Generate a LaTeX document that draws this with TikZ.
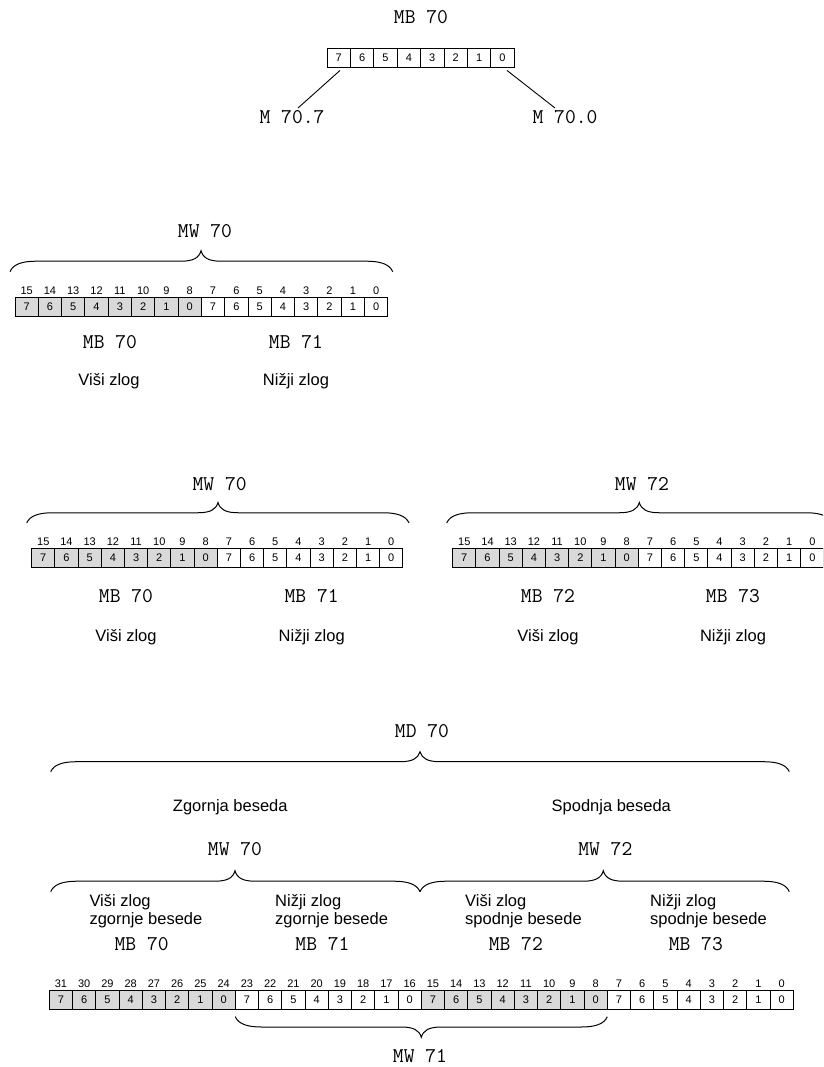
\documentclass[tikz,border=0pt]{standalone}
\usepackage{fontspec}
\setmainfont{Liberation Sans}
\usetikzlibrary{calc}
\definecolor{cellgray}{gray}{0.85}
\newcommand{\register}[6]{%
  \foreach \i in {1,...,#4} {
    \pgfmathtruncatemacro{\k}{\i-1}
    \pgfmathtruncatemacro{\bitv}{7-mod(\k,8)}
    \pgfmathtruncatemacro{\numv}{#4-1-\k}
    \pgfmathtruncatemacro{\g}{#6*(1-mod(floor(\k/8),2))}
    \ifnum\g=1 \def\cf{cellgray}\else\def\cf{white}\fi
    \node[cell, fill=\cf, minimum width=#5pt] (#1-\k) at ({#2+#5*(\k+0.5)},{#3+9.75}) {\bitv};
    \ifnum#6=1 \node[bitn] (#1-n\k) at ({#2+#5*(\k+0.5)},{#3-3}) {\numv};\fi
  }
}
\newcommand{\wbrace}[5]{%
  \draw[bracel] (#1,#4) .. controls ({#1+3},{#4-0.35*(#5)}) and ({#1+12},{#4-0.5*(#5)}) .. ({#1+26},{#4-0.5*(#5)})
   -- ({#2-20},{#4-0.5*(#5)}) .. controls ({#2-8},{#4-0.5*(#5)}) and ({#2-2},{#4-0.65*(#5)}) .. (#2,{#4-(#5)})
   .. controls ({#2+2},{#4-0.65*(#5)}) and ({#2+8},{#4-0.5*(#5)}) .. ({#2+20},{#4-0.5*(#5)})
   -- ({#3-26},{#4-0.5*(#5)}) .. controls ({#3-12},{#4-0.5*(#5)}) and ({#3-3},{#4-0.35*(#5)}) .. (#3,#4);
}
\tikzset{
  mono/.style={font=\ttfamily\fontsize{21}{24}\selectfont, inner sep=0pt, anchor=base},
  lab/.style={font=\fontsize{16.5}{18.3}\selectfont, inner sep=0pt, anchor=base},
  labl/.style={lab, anchor=base west},
  bitn/.style={font=\fontsize{11}{11}\selectfont, inner sep=0pt, anchor=base},
  cell/.style={draw, line width=0.9pt, minimum height=19.5pt, inner sep=0pt, font=\fontsize{11}{11}\selectfont},
  bracel/.style={line width=1pt},
  lead/.style={line width=0.9pt},
}
\begin{document}
\begin{tikzpicture}[x=1pt,y=-1pt]
\useasboundingbox (0,0) rectangle (823,1067);
\clip (0,0) rectangle (823,1067);
\fill[white] (0,0) rectangle (823,1067);

% ---- Section 1: MB 70
\node[mono] (t1) at (421,23.5) {MB 70};
\register{s1}{327}{48}{8}{23.4}{0}
\coordinate (e7) at (298,108);
\coordinate (e0) at (555,108);
\draw[lead] ($(s1-0.south)+(1.3,2.5)$) -- (e7);
\draw[lead] ($(s1-7.south)+(4.5,2.5)$) -- (e0);
\node[mono] (m707) at (292,123.5) {M 70.7};
\node[mono] (m700) at (565,123.5) {M 70.0};

% ---- Section 2: MW 70
\node[mono] (t2) at (205,237) {MW 70};
\wbrace{10}{201}{392.7}{271.7}{21}
\register{s2}{15}{297}{16}{23.3}{1}
\node[mono] (s2mb70) at (110,348.5) {MB 70};
\node[mono] (s2mb71) at (296,348.5) {MB 71};
\node[lab] (s2hi) at (109,385) {Viši zlog};
\node[lab] (s2lo) at (296,385) {Nižji zlog};

% ---- Section 3: MW 70 and MW 72
\node[mono] (t3a) at (219.7,490.5) {MW 70};
\wbrace{26.7}{218}{409}{523}{20.5}
\register{s3a}{31.7}{548}{16}{23.2}{1}
\node[mono] (s3mb70) at (126,602) {MB 70};
\node[mono] (s3mb71) at (311.7,602) {MB 71};
\node[lab] (s3hia) at (126,641) {Viši zlog};
\node[lab] (s3loa) at (311.7,641) {Nižji zlog};

\node[mono] (t3b) at (642,490.5) {MW 72};
\wbrace{446.7}{639.3}{832}{523}{20.5}
\register{s3b}{452.7}{548}{16}{23.2}{1}
\node[mono] (s3mb72) at (548,602) {MB 72};
\node[mono] (s3mb73) at (733,602) {MB 73};
\node[lab] (s3hib) at (548,641) {Viši zlog};
\node[lab] (s3lob) at (733,641) {Nižji zlog};

% ---- Section 4: MD 70
\node[mono] (t4) at (422,737) {MD 70};
\wbrace{50.7}{420}{789.3}{771.7}{20}
\node[lab] (zg) at (230.3,811.7) {Zgornja beseda};
\node[lab] (sp) at (611.3,811.7) {Spodnja beseda};
\node[mono] (w70) at (235,855) {MW 70};
\node[mono] (w72) at (605.3,855) {MW 72};
\wbrace{50.7}{235}{420}{891.7}{21}
\wbrace{420}{603.3}{789.3}{891.7}{21}
\node[labl] (a1) at (89.3,906) {Viši zlog};
\node[labl] (a2) at (89.3,924) {zgornje besede};
\node[labl] (b1) at (275,906) {Nižji zlog};
\node[labl] (b2) at (275,924) {zgornje besede};
\node[labl] (c1) at (465,906) {Viši zlog};
\node[labl] (c2) at (465,924) {spodnje besede};
\node[labl] (d1) at (650,906) {Nižji zlog};
\node[labl] (d2) at (650,924) {spodnje besede};
\node[mono] (b70) at (141.7,950.5) {MB 70};
\node[mono] (b71) at (322.5,950.5) {MB 71};
\node[mono] (b72) at (515.8,950.5) {MB 72};
\node[mono] (b73) at (695.8,950.5) {MB 73};
\register{s4}{49.3}{990}{32}{23.25}{1}
\wbrace{235.3}{421.3}{607.3}{1016.7}{-20.6}
\node[mono] (w71) at (420,1062.5) {MW 71};
\end{tikzpicture}
\end{document}
